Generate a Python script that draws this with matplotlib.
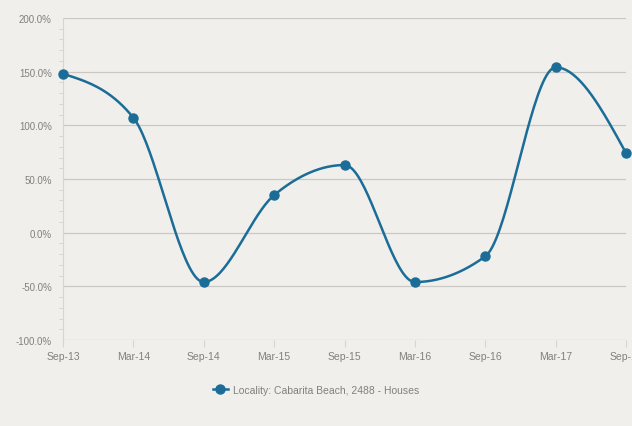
import numpy as np
from matplotlib import pyplot as plt
from matplotlib.ticker import MultipleLocator, FuncFormatter

# data
periods = ['Sep-13', 'Mar-14', 'Sep-14', 'Mar-15', 'Sep-15', 'Mar-16', 'Sep-16', 'Mar-17', 'Sep-17']
growth = [148, 107, -46, 35, 63, -46, -22, 154, 74]
series_name = 'Locality: Cabarita Beach, 2488 - Houses'

BG = '#f0efeb'
LINE = '#1b6d98'
GRID = '#c9c8c4'
TXT = '#808080'


def monotone_curve(x, y, n=40):
	# monotone cubic (like d3 curveMonotoneX) for the smoothed line
	x = np.asarray(x, float)
	y = np.asarray(y, float)
	h = np.diff(x)
	s = np.diff(y) / h
	m = np.zeros_like(y)
	for i in range(1, len(y) - 1):
		p = (s[i - 1] * h[i] + s[i] * h[i - 1]) / (h[i - 1] + h[i])
		m[i] = (np.sign(s[i - 1]) + np.sign(s[i])) * min(abs(s[i - 1]), abs(s[i]), 0.5 * abs(p))
	m[0] = (3 * s[0] - m[1]) / 2
	m[-1] = (3 * s[-1] - m[-2]) / 2
	xs, ys = [], []
	for i in range(len(x) - 1):
		t = np.linspace(0, 1, n)
		h00 = 2 * t**3 - 3 * t**2 + 1
		h10 = t**3 - 2 * t**2 + t
		h01 = -2 * t**3 + 3 * t**2
		h11 = t**3 - t**2
		xs.append(x[i] + t * h[i])
		ys.append(h00 * y[i] + h10 * h[i] * m[i] + h01 * y[i + 1] + h11 * h[i] * m[i + 1])
	return np.concatenate(xs), np.concatenate(ys)


plt.rcParams['font.family'] = ['Liberation Sans', 'DejaVu Sans']

fig = plt.figure(figsize=(6.32, 4.27), dpi=100, facecolor=BG)
ax = fig.add_axes([0.0997, 0.2014, 0.891, 0.7541])
ax.set_facecolor(BG)

xpos = np.arange(len(periods))
cx, cy = monotone_curve(xpos, growth)
ax.plot(cx, cy, color=LINE, lw=1.8, clip_on=False, zorder=3)
ax.plot(xpos, growth, 'o', color=LINE, ms=6.5, clip_on=False, zorder=4)

ax.set_xlim(0, len(periods) - 1)
ax.set_ylim(-100, 200)
ax.yaxis.set_major_locator(MultipleLocator(50))
ax.yaxis.set_minor_locator(MultipleLocator(10))
ax.yaxis.set_major_formatter(FuncFormatter(lambda v, p: '%.1f%%' % v))
ax.set_xticks(xpos)
ax.set_xticklabels(periods)

ax.grid(axis='y', which='major', color=GRID, lw=0.9)
for side in ['top', 'right', 'bottom']:
	ax.spines[side].set_visible(False)
ax.spines['left'].set_color('#d6d5d1')
ax.tick_params(axis='y', which='major', length=0, labelsize=7, labelcolor=TXT, pad=8)
ax.tick_params(axis='y', which='minor', length=3, color='#d0cfcb', direction='out')
ax.tick_params(axis='x', length=5, direction='out', color='#d6d5d1', labelsize=7.5, labelcolor=TXT, pad=3)

leg_line, = ax.plot([], [], '-o', color=LINE, lw=1.8, ms=6.5)
fig.legend([leg_line], [series_name], loc='center', bbox_to_anchor=(0.50, 0.084),
	frameon=False, fontsize=7.5, labelcolor=TXT, handlelength=1.4, handletextpad=0.5)

fig.savefig('out.png', dpi=100, facecolor=BG)
